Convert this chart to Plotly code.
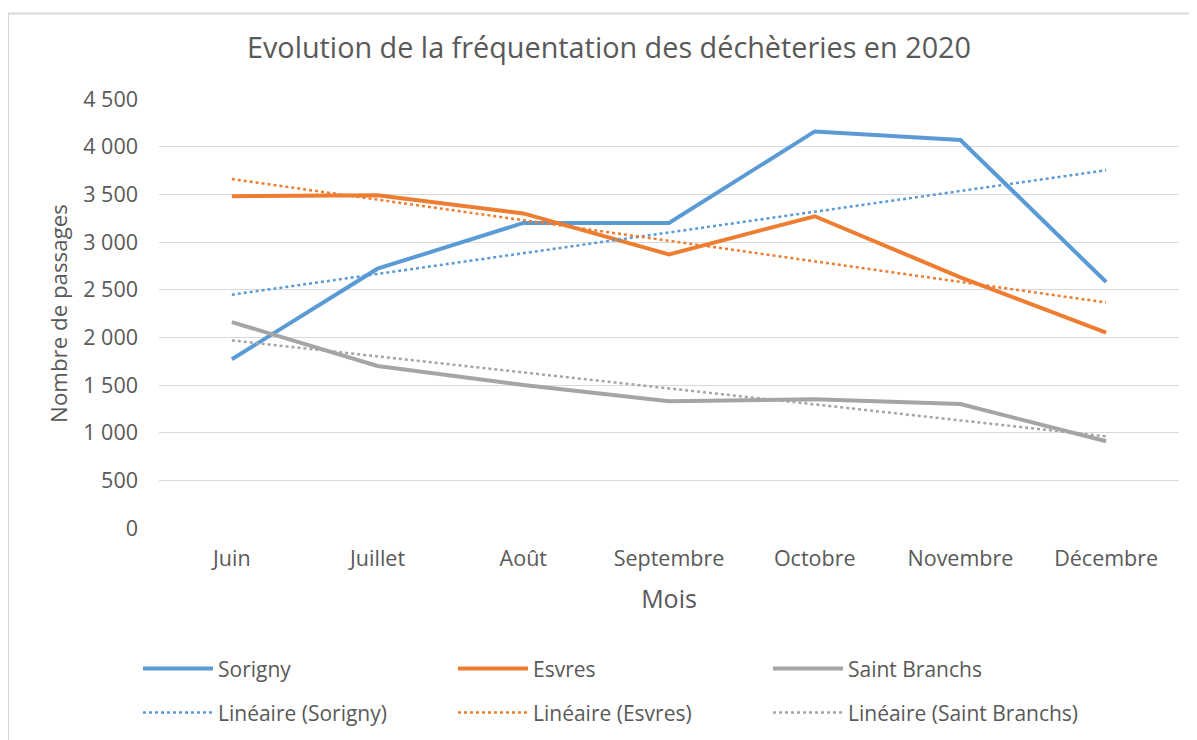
import numpy as np
import plotly.graph_objects as go

mois = ["Juin", "Juillet", "Août", "Septembre", "Octobre", "Novembre", "Décembre"]
sorigny = [1770, 2720, 3200, 3200, 4160, 4070, 2580]
esvres = [3480, 3490, 3300, 2870, 3270, 2630, 2050]
saint_branchs = [2160, 1700, 1500, 1330, 1350, 1300, 910]
y_ticks = [0, 500, 1000, 1500, 2000, 2500, 3000, 3500, 4000, 4500]

series = [("Sorigny", sorigny, "#5B9BD5"),
          ("Esvres", esvres, "#ED7D31"),
          ("Saint Branchs", saint_branchs, "#A5A5A5")]

FONT = "Open Sans"
TXT = "#595959"

fig = go.Figure()
xi = np.arange(len(mois))
for name, vals, col in series:
    fig.add_trace(go.Scatter(x=mois, y=vals, mode="lines", name=name,
                             line=dict(color=col, width=4), legend="legend"))
for name, vals, col in series:
    a, b = np.polyfit(xi, vals, 1)
    fig.add_trace(go.Scatter(x=mois, y=a * xi + b, mode="lines", name=f"Linéaire ({name})",
                             line=dict(color=col, width=2.5, dash="3px,3px"), legend="legend2"))

# page body has an 8px margin: work in screenshot pixels, shift by OFF
OFF = 8
W, H = 1197 - OFF, 740 - OFF
L = 159 - OFF
T = 98.6 - OFF
R = W - (1179 - OFF)
B = H - (528 - OFF)
pw, ph = W - L - R, H - T - B

def px(x):
    return (x - OFF - L) / pw

def py(y):
    return (H - B - (y - OFF)) / ph

leg_common = dict(orientation="h", xanchor="left", yanchor="middle",
                  font=dict(family=FONT, size=21, color=TXT),
                  entrywidth=230, entrywidthmode="pixels", itemwidth=70,
                  bgcolor="rgba(0,0,0,0)")

fig.update_layout(
    width=W, height=H,
    margin=dict(l=L, r=R, t=T, b=B, autoexpand=False),
    paper_bgcolor="white", plot_bgcolor="white",
    separators=", ",
    font=dict(family=FONT, color=TXT),
    title=dict(text="Evolution de la fréquentation des déchèteries en 2020",
               x=px(609), xanchor="center", xref="paper", y=1 - (48 - OFF) / H, yanchor="middle",
               font=dict(family=FONT, size=28.8, color=TXT)),
    xaxis=dict(type="category", range=[-0.5, 6.5], showgrid=False, zeroline=False,
               showline=False, ticks="", ticklabelstandoff=15,
               tickfont=dict(family=FONT, size=21.5, color=TXT),
               title=dict(text="Mois", font=dict(family=FONT, size=25, color=TXT), standoff=19)),
    yaxis=dict(range=[0, 4500], tickvals=y_ticks, tickformat=",d",
               showgrid=True, gridcolor="#D9D9D9", gridwidth=1, zeroline=False,
               showline=False, ticks="", ticklabelstandoff=20,
               tickfont=dict(family=FONT, size=21.5, color=TXT),
               title=dict(text="Nombre de passages", font=dict(family=FONT, size=22.3, color=TXT),
                          standoff=9)),
    legend=dict(x=px(138), y=py(669), **leg_common),
    legend2=dict(x=px(138), y=py(713), **leg_common),
    shapes=[dict(type="rect", xref="paper", yref="paper",
                 x0=px(8), x1=px(1197 + 10), y0=py(740 + 10), y1=py(13),
                 line=dict(color="#D9D9D9", width=2), fillcolor="rgba(0,0,0,0)", layer="below")],
)

fig.write_html("out.html")
